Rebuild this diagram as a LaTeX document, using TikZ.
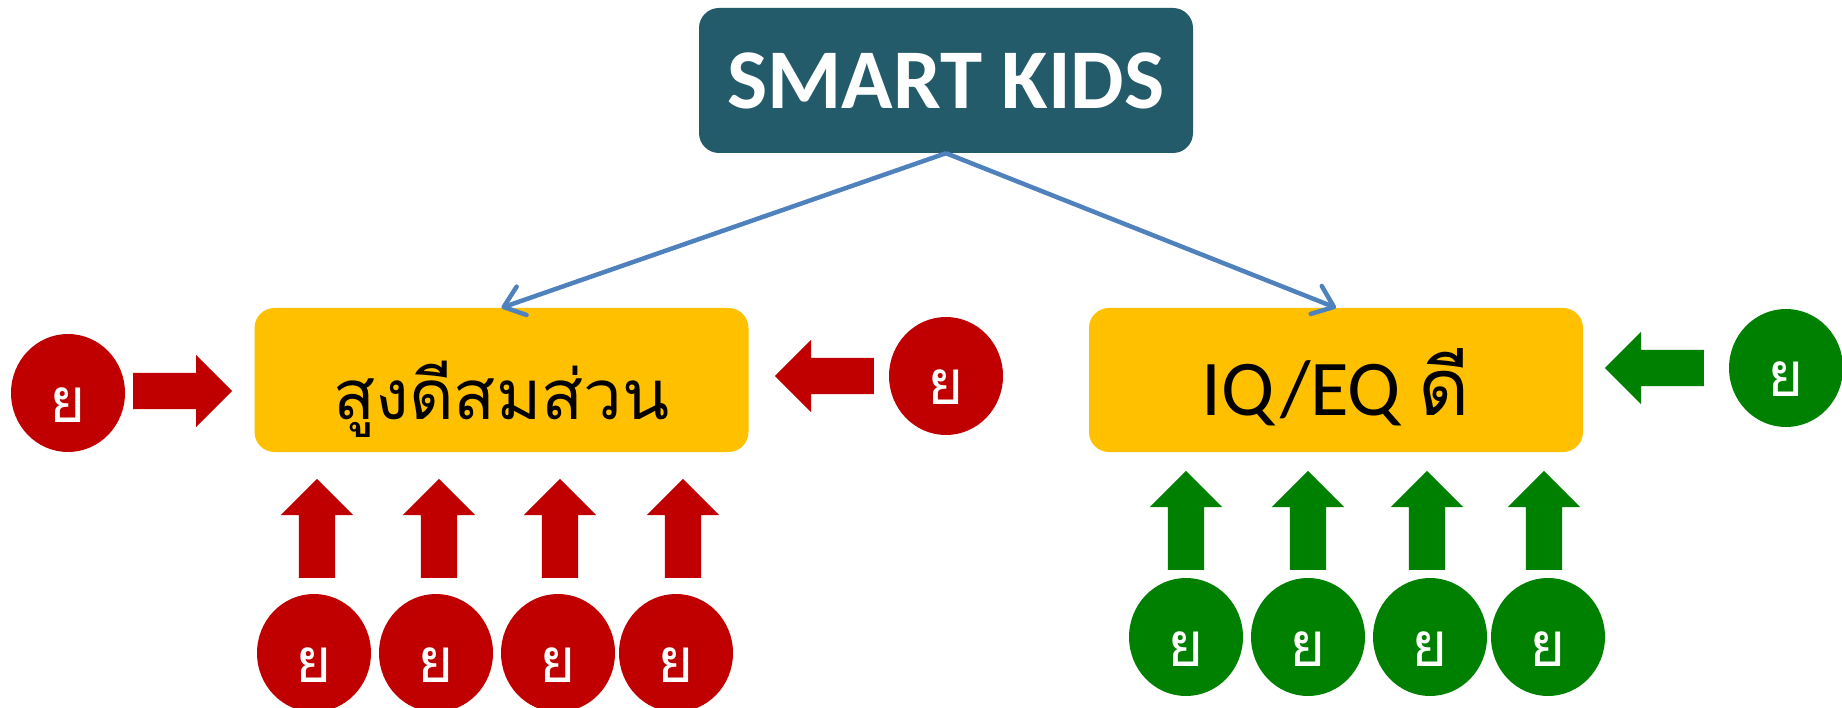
\documentclass[tikz,border=0pt]{standalone}
\usepackage{fontspec}
\setmainfont{Carlito}
\newfontfamily\thaifont[Script=Thai]{Loma}
\usetikzlibrary{positioning,arrows.meta,shapes.geometric,shapes.arrows}
\definecolor{kidsteal}{HTML}{235B6A}
\definecolor{boxyellow}{HTML}{FFC000}
\definecolor{badred}{HTML}{C00000}
\definecolor{goodgreen}{HTML}{008000}
\definecolor{linkblue}{HTML}{4F81BD}
\tikzset{
  title/.style   = {rectangle,rounded corners=20pt,fill=kidsteal,text=white,
                    minimum width=494pt,minimum height=145pt,inner sep=0pt,
                    font=\fontsize{85}{90}\selectfont\bfseries},
  goal/.style    = {rectangle,rounded corners=20pt,fill=boxyellow,
                    minimum width=494pt,minimum height=144pt,inner sep=0pt,
                    text depth=0pt,font=\fontsize{79}{90}\selectfont},
  factor/.style  = {ellipse,minimum width=114pt,minimum height=118pt,inner sep=0pt,
                    text=white,text height=58pt,text depth=0pt,
                    font=\thaifont\fontsize{62}{64}\selectfont},
  push/.style    = {single arrow,single arrow head extend=18pt,single arrow tip angle=90,
                    minimum height=99pt,inner sep=18pt,anchor=tail},
  link/.style    = {draw=linkblue,line width=4.5pt,
                    -{Straight Barb[length=19pt,width=30pt,round]}}
}
\newcommand{\DrawFactor}[5]{%
  % draws the circle (factor) with its letter
  \node[factor,fill=#5] (#1) at #2 {ย};
  % draws the block arrow that pushes towards the box (#3 is its tail)
  \node[push,fill=#5,shape border rotate=#4] (#1push) at #3 {};
}
\begin{document}
\begin{tikzpicture}[x=1pt,y=-1pt]
    \useasboundingbox (0,0) rectangle (1842,708);

    \node[title] (kids) at (946,80.5) {SMART KIDS};
    \node[goal,text height=80pt] (body) at (501.5,380)
      {\thaifont\fontsize{69}{80}\selectfont สูงดีสมส่วน};
    \node[goal,text height=72pt] (iq) at (1336,380) {IQ/EQ {\thaifont ดี}};

    \draw[link] (kids.south) -- (body.north);
    \draw[link] (kids.south) -- (iq.north);

    % factors around the body box
    \DrawFactor{rl}{(68,393)}{(133,391)}{0}{badred}
    \DrawFactor{rr}{(946,376)}{(874,376)}{180}{badred}
    \DrawFactor{rb1}{(314,653)}{(317,578)}{90}{badred}
    \DrawFactor{rb2}{(436,653)}{(439,578)}{90}{badred}
    \DrawFactor{rb3}{(558,653)}{(560,578)}{90}{badred}
    \DrawFactor{rb4}{(676,653)}{(683,578)}{90}{badred}

    % factors around the IQ/EQ box
    \DrawFactor{gr}{(1786,368)}{(1704,368)}{180}{goodgreen}
    \DrawFactor{gb1}{(1186,637)}{(1186,570)}{90}{goodgreen}
    \DrawFactor{gb2}{(1308,637)}{(1308,570)}{90}{goodgreen}
    \DrawFactor{gb3}{(1430,637)}{(1427,570)}{90}{goodgreen}
    \DrawFactor{gb4}{(1548,637)}{(1544,570)}{90}{goodgreen}
  \end{tikzpicture}
\end{document}
